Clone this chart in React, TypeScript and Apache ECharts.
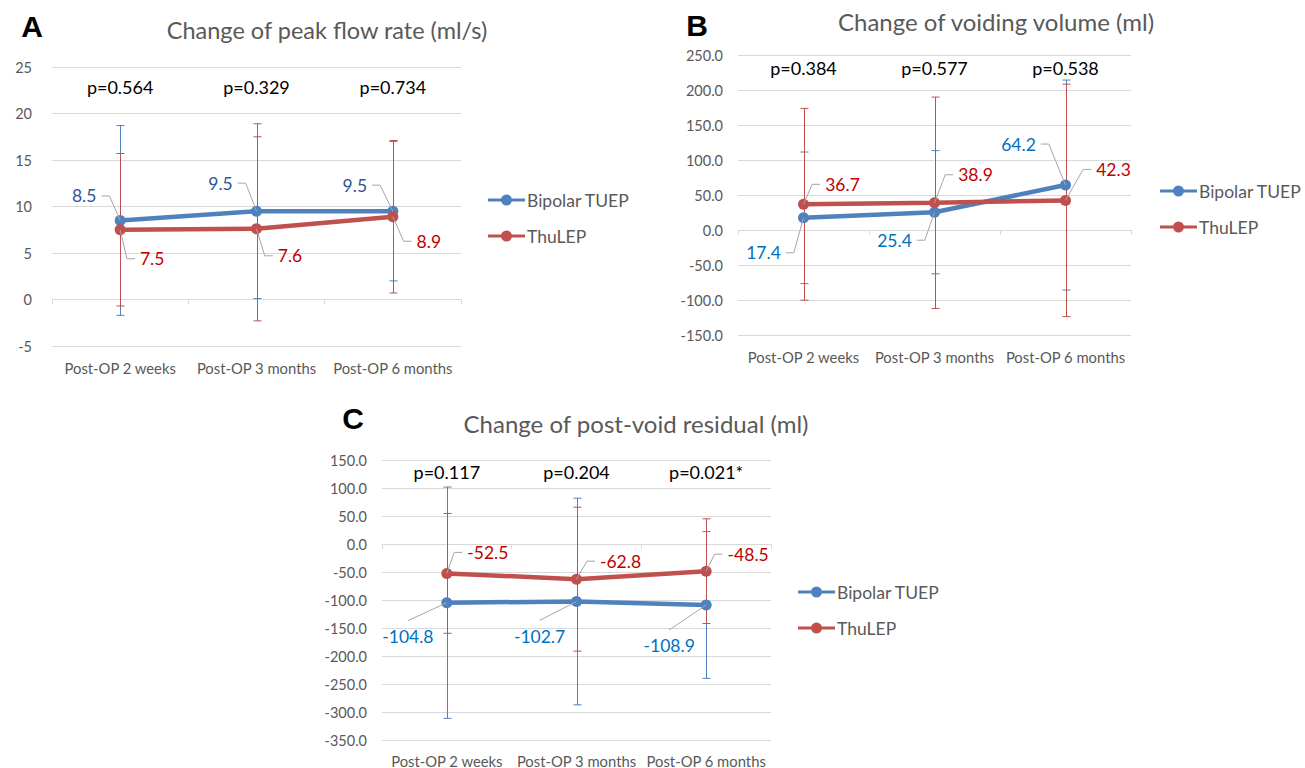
import React, { useEffect, useRef } from 'react';
import * as echarts from 'echarts';

// ---------- data ----------
const categories = ['Post-OP 2 weeks', 'Post-OP 3 months', 'Post-OP 6 months'];
const seriesNames = ['Bipolar TUEP', 'ThuLEP'];

// A: Change of peak flow rate (ml/s)
const peakFlowBipolar = [8.5, 9.5, 9.5];
const peakFlowBipolarSD = [10.2, 9.4, 7.5];
const peakFlowThuLEP = [7.5, 7.6, 8.9];
const peakFlowThuLEPSD = [8.2, 9.9, 8.2];
const peakFlowP = ['p=0.564', 'p=0.329', 'p=0.734'];

// B: Change of voiding volume (ml)
const voidVolBipolar = [17.4, 25.4, 64.2];
const voidVolBipolarSD = [94, 88, 150];
const voidVolThuLEP = [36.7, 38.9, 42.3];
const voidVolThuLEPSD = [137, 151, 166];
const voidVolP = ['p=0.384', 'p=0.577', 'p=0.538'];

// C: Change of post-void residual (ml)
const pvrBipolar = [-104.8, -102.7, -108.9];
const pvrBipolarSD = [206.5, 184.5, 131];
const pvrThuLEP = [-52.5, -62.8, -48.5];
const pvrThuLEPSD = [107, 128.5, 93.5];
const pvrP = ['p=0.117', 'p=0.204', 'p=0.021*'];

const titles = ['Change of peak flow rate (ml/s)', 'Change of voiding volume (ml)', 'Change of post-void residual (ml)'];
const panelLetters = ['A', 'B', 'C'];

// ---------- styles ----------
const FONT = 'Lato, "Open Sans", sans-serif';
const BLUE = '#4F81BD';
const RED = '#C0504D';
const GRAY_TEXT = '#595959';
const GRID_LINE = '#D9D9D9';
const LEADER = '#A6A6A6';
const LEGEND_ICON = 'path://M0,4.5L37,4.5L37,7.5L0,7.5Z M13,6A5.5,5.5,0,1,1,24,6A5.5,5.5,0,1,1,13,6Z';

const panels = [
  {
    grid: { left: 52, top: 67, width: 409, height: 279 },
    yMin: -5, yMax: 25, yInterval: 5, decimals: 0, yLabelMargin: 20, xLabelMargin: 14,
    bip: peakFlowBipolar, bipSD: peakFlowBipolarSD, thu: peakFlowThuLEP, thuSD: peakFlowThuLEPSD,
    p: peakFlowP, pY: 22.9,
    bipLabelColor: '#2F5597', thuLabelColor: '#C00000',
    bipOffsets: [[-36, -24.5], [-36, -28], [-38, -26]],
    thuOffsets: [[32, 29], [33.5, 27], [36, 24.5]],
    bipMode: 'elbow', thuMode: 'elbow',
    legend: { left: 488, top: 191, gap: 18 },
    title: { x: 327, y: 30, size: 23.5 },
    letter: { x: 32, y: 26 },
  },
  {
    grid: { left: 738, top: 55, width: 393, height: 280 },
    yMin: -150, yMax: 250, yInterval: 50, decimals: 1, yLabelMargin: 15, xLabelMargin: 14,
    bip: voidVolBipolar, bipSD: voidVolBipolarSD, thu: voidVolThuLEP, thuSD: voidVolThuLEPSD,
    p: voidVolP, pY: 231,
    bipLabelColor: '#0070C0', thuLabelColor: '#C00000',
    bipOffsets: [[-40, 35], [-40, 28], [-47, -41]],
    thuOffsets: [[39, -20], [41, -28], [48, -31]],
    bipMode: 'elbow', thuMode: 'elbow',
    legend: { left: 1160, top: 182, gap: 18 },
    title: { x: 996, y: 21, size: 24 },
    letter: { x: 697, y: 25 },
  },
  {
    grid: { left: 382, top: 460, width: 389, height: 280 },
    yMin: -350, yMax: 150, yInterval: 50, decimals: 1, yLabelMargin: 15, xLabelMargin: 13,
    bip: pvrBipolar, bipSD: pvrBipolarSD, thu: pvrThuLEP, thuSD: pvrThuLEPSD,
    p: pvrP, pY: 128.6,
    bipLabelColor: '#0070C0', thuLabelColor: '#C00000',
    bipOffsets: [[-39, 34], [-37, 35], [-37, 41]],
    thuOffsets: [[41, -21], [44, -18], [42, -17]],
    bipMode: 'top', thuMode: 'elbow',
    legend: { left: 798, top: 583, gap: 18 },
    title: { x: 636, y: 423, size: 24 },
    letter: { x: 353, y: 418 },
  },
];

let measureCtx: CanvasRenderingContext2D | null = null;
function measure(text: string, font: string): number {
  if (!measureCtx) measureCtx = document.createElement('canvas').getContext('2d');
  if (!measureCtx) return text.length * 9;
  measureCtx.font = font;
  return measureCtx.measureText(text).width;
}

function errorBarSeries(gi: number, values: number[], sds: number[], color: string, z: number) {
  return {
    type: 'custom',
    name: 'err' + gi + color,
    xAxisIndex: gi * 2,
    yAxisIndex: gi,
    z,
    silent: true,
    data: values.map((v, i) => [i, v, sds[i]]),
    renderItem: (params: any, api: any) => {
      const x = api.value(0);
      const v = api.value(1);
      const sd = api.value(2);
      const top = api.coord([x, v + sd]);
      const bot = api.coord([x, v - sd]);
      const cx = Math.round(top[0]) + 0.5;
      const hw = 4;
      const st = { stroke: color, lineWidth: 1 };
      return {
        type: 'group',
        children: [
          { type: 'line', shape: { x1: cx, y1: top[1], x2: cx, y2: bot[1] }, style: st },
          { type: 'line', shape: { x1: cx - hw, y1: top[1], x2: cx + hw, y2: top[1] }, style: st },
          { type: 'line', shape: { x1: cx - hw, y1: bot[1], x2: cx + hw, y2: bot[1] }, style: st },
        ],
      };
    },
  };
}

function labelSeries(gi: number, values: number[], offsets: number[][], color: string, mode: string) {
  const fontSize = 17.5;
  const font = `${fontSize}px ${FONT}`;
  return {
    type: 'custom',
    name: 'lbl' + gi + color,
    xAxisIndex: gi * 2,
    yAxisIndex: gi,
    z: 4,
    silent: true,
    data: values.map((v, i) => [i, v]),
    renderItem: (params: any, api: any) => {
      const i = params.dataIndex;
      const pt = api.coord([api.value(0), api.value(1)]);
      const [dx, dy] = offsets[i];
      const text = values[i].toFixed(1);
      const w = measure(text, font);
      const lx = pt[0] + dx;
      const ly = pt[1] + dy;
      let points: number[][];
      if (mode === 'top') {
        points = [[pt[0], pt[1]], [lx, ly - 16]];
      } else if (dx < 0) {
        const e = lx + w / 2 + 5;
        points = [[e, ly], [e + 8, ly], [pt[0], pt[1]]];
      } else {
        const e = lx - w / 2 - 5;
        points = [[e, ly], [e - 8, ly], [pt[0], pt[1]]];
      }
      return {
        type: 'group',
        children: [
          { type: 'polyline', shape: { points }, style: { stroke: LEADER, lineWidth: 1, fill: 'none' }, z2: 0 },
          {
            type: 'text', x: lx, y: ly, z2: 1,
            style: {
              text, fill: color, fontSize, fontFamily: FONT,
              align: 'center', verticalAlign: 'middle', textAlign: 'center', textVerticalAlign: 'middle',
            },
          },
        ],
      };
    },
  };
}

function pValueSeries(gi: number, texts: string[], yVal: number) {
  return {
    type: 'custom',
    name: 'p' + gi,
    xAxisIndex: gi * 2,
    yAxisIndex: gi,
    z: 6,
    silent: true,
    data: texts.map((t, i) => [i, yVal]),
    renderItem: (params: any, api: any) => {
      const pt = api.coord([api.value(0), api.value(1)]);
      return {
        type: 'text', x: pt[0], y: pt[1],
        style: {
          text: texts[params.dataIndex], fill: '#000000', fontSize: 18, fontFamily: FONT,
          align: 'center', verticalAlign: 'middle', textAlign: 'center', textVerticalAlign: 'middle',
        },
      };
    },
  };
}

function lineSeries(gi: number, name: string, values: number[], color: string) {
  return {
    type: 'line',
    name,
    xAxisIndex: gi * 2,
    yAxisIndex: gi,
    z: 3,
    data: values,
    symbol: 'circle',
    symbolSize: 11,
    lineStyle: { color, width: 4.5 },
    itemStyle: { color },
    label: { show: false },
    emphasis: { disabled: true },
  };
}

export default function App() {
  const ref = useRef<HTMLDivElement>(null);
  useEffect(() => {
    if (!ref.current) return;
    const chart = echarts.init(ref.current, null, { renderer: 'svg' });

    const grid: any[] = [];
    const xAxis: any[] = [];
    const yAxis: any[] = [];
    const series: any[] = [];
    const legend: any[] = [];
    const graphic: any[] = [];

    panels.forEach((p, gi) => {
      grid.push({ ...p.grid, containLabel: false, outerBoundsMode: 'none' });
      xAxis.push({
        type: 'category', gridIndex: gi, data: categories, position: 'bottom',
        axisLine: { show: false, onZero: false }, axisTick: { show: false },
        axisLabel: { color: GRAY_TEXT, fontSize: 14.8, fontFamily: FONT, margin: p.xLabelMargin, interval: 0 },
        splitLine: { show: false },
      });
      xAxis.push({
        type: 'category', gridIndex: gi, data: categories, position: 'top',
        axisLine: { show: true, onZero: true, lineStyle: { color: GRID_LINE, width: 1 } },
        axisTick: { show: true, inside: true, length: 5, lineStyle: { color: GRID_LINE } },
        axisLabel: { show: false },
        splitLine: { show: false },
      });
      yAxis.push({
        type: 'value', gridIndex: gi, min: p.yMin, max: p.yMax, interval: p.yInterval,
        axisLine: { show: false }, axisTick: { show: false },
        splitLine: { show: true, lineStyle: { color: GRID_LINE, width: 1 } },
        axisLabel: {
          color: GRAY_TEXT, fontSize: 14.5, fontFamily: FONT, margin: p.yLabelMargin,
          formatter: (v: number) => v.toFixed(p.decimals),
        },
      });
      series.push(errorBarSeries(gi, p.bip, p.bipSD, BLUE, 1));
      series.push(errorBarSeries(gi, p.thu, p.thuSD, RED, 2));
      series.push(lineSeries(gi, seriesNames[0], p.bip, BLUE));
      series.push(lineSeries(gi, seriesNames[1], p.thu, RED));
      series.push(labelSeries(gi, p.bip, p.bipOffsets, p.bipLabelColor, p.bipMode));
      series.push(labelSeries(gi, p.thu, p.thuOffsets, p.thuLabelColor, p.thuMode));
      series.push(pValueSeries(gi, p.p, p.pY));
      legend.push({
        show: true, orient: 'vertical', left: p.legend.left, top: p.legend.top,
        itemGap: p.legend.gap, itemWidth: 37, itemHeight: 12, padding: 0,
        selectedMode: false,
        data: seriesNames.map((n) => ({ name: n, icon: LEGEND_ICON })),
        textStyle: { color: GRAY_TEXT, fontSize: 17.5, fontFamily: FONT, padding: [0, 0, 0, -3] },
      });
      graphic.push({
        type: 'text', x: p.title.x, y: p.title.y,
        style: {
          text: titles[gi], fill: GRAY_TEXT, fontSize: p.title.size, fontFamily: FONT,
          align: 'center', verticalAlign: 'middle', textAlign: 'center', textVerticalAlign: 'middle',
        },
      });
      graphic.push({
        type: 'text', x: p.letter.x, y: p.letter.y,
        style: {
          text: panelLetters[gi], fill: '#000000', fontSize: 30, fontWeight: 'bold',
          fontFamily: '"Liberation Sans", Arial, sans-serif',
          align: 'center', verticalAlign: 'middle', textAlign: 'center', textVerticalAlign: 'middle',
        },
      });
    });

    chart.setOption({
      animation: false,
      backgroundColor: '#ffffff',
      textStyle: { fontFamily: FONT },
      grid, xAxis, yAxis, series, legend, graphic,
      tooltip: { show: false },
    });
    return () => chart.dispose();
  }, []);

  return (
    <div
      ref={ref}
      style={{ position: 'absolute', left: 0, top: 0, width: 1305, height: 768, background: '#fff' }}
    />
  );
}
